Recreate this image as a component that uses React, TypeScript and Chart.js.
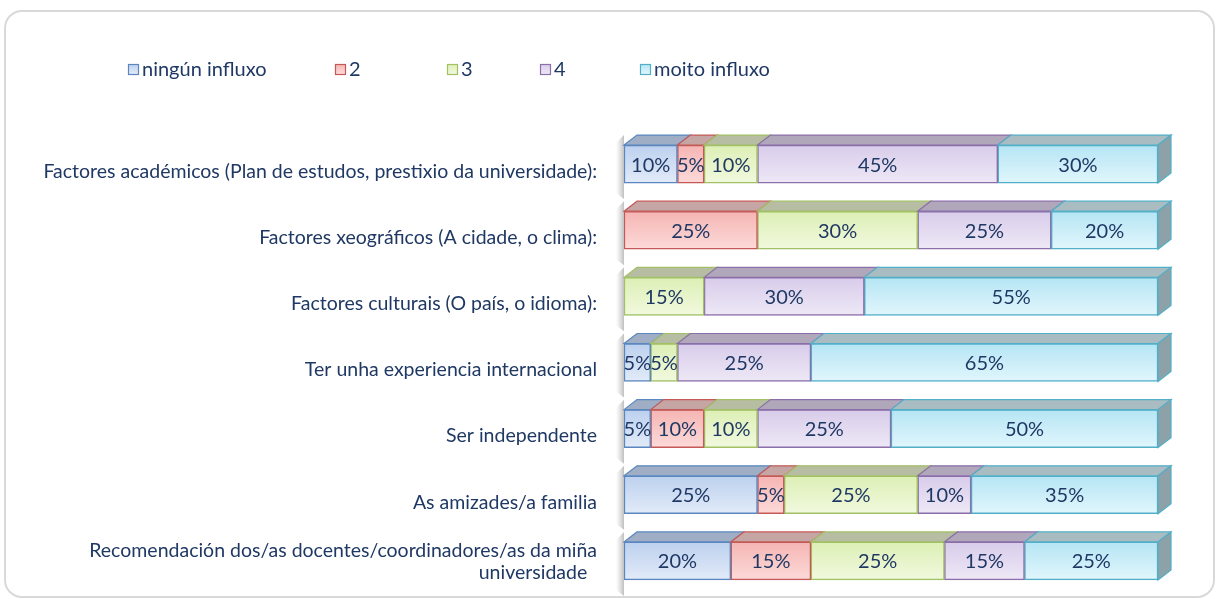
import React, { useEffect, useRef } from "react";
import { Chart, registerables } from "chart.js";
Chart.register(...registerables);

const categories: (string | string[])[] = [
  "Factores académicos (Plan de estudos, prestixio da universidade):",
  "Factores xeográficos (A cidade, o clima):",
  "Factores culturais (O país, o idioma):",
  "Ter unha experiencia internacional",
  "Ser independente",
  "As amizades/a familia",
  ["Recomendación dos/as docentes/coordinadores/as da miña", "universidade\u2002"],
];
const seriesNames = ["ningún influxo", "2", "3", "4", "moito influxo"];
const valsNingun = [10, 0, 0, 5, 5, 25, 20];
const vals2 = [5, 25, 0, 0, 10, 5, 15];
const vals3 = [10, 30, 15, 5, 10, 25, 25];
const vals4 = [45, 25, 30, 25, 25, 10, 15];
const valsMoito = [30, 20, 55, 65, 50, 35, 25];
const seriesValues = [valsNingun, vals2, vals3, vals4, valsMoito];

const palette = [
  { border: "#5B87C0", light: "#E2EBF8", dark: "#BCD0EE", top: "#9FAEC5" },
  { border: "#C45A57", light: "#FCDAD9", dark: "#F5B5B3", top: "#C6A5A5" },
  { border: "#A2C064", light: "#F1F9DE", dark: "#DDEFB5", top: "#B6BDA3" },
  { border: "#8A6FAA", light: "#EEE8F6", dark: "#D8CCEA", top: "#B1A7BA" },
  { border: "#52AFC8", light: "#E1F6FC", dark: "#B5E5F4", top: "#A9BCC1" },
];
const sideColor = "#8CA2A8";
const textColor = "#1F3864";
const FONT = "Lato, 'Open Sans', sans-serif";
const FS = 20;
const FS_CAT = 19.5;
const CAT_LH = 22;
const CAT_GAP = 27;
const DX = 13;
const DY = 10;
const legendX = [128, 335, 447, 540, 640];
const legendY = 69;

const threeD = {
  id: "threeD",
  beforeDatasetsDraw(chart: any) {
    const ctx = chart.ctx;
    const n = chart.data.labels.length;
    const meta0 = chart.getDatasetMeta(0);
    ctx.save();
    for (let i = 0; i < n; i++) {
      const el = meta0.data[i];
      const left = Math.min(el.base, el.x);
      const yt = el.y - el.height / 2 - DY;
      const yb = el.y + el.height / 2 + 16;
      const g = ctx.createLinearGradient(left - 8, 0, left, 0);
      g.addColorStop(0, "rgba(190,190,190,0)");
      g.addColorStop(1, "rgba(170,170,170,0.75)");
      ctx.fillStyle = g;
      ctx.beginPath();
      ctx.moveTo(left - 2, yt + 2);
      ctx.lineTo(left, yt);
      ctx.lineTo(left, yb);
      ctx.lineTo(left - 8, yb - 6);
      ctx.lineTo(left - 8, yt + 8);
      ctx.closePath();
      ctx.fill();
    }
    ctx.restore();
  },
  afterDatasetsDraw(chart: any) {
    const ctx = chart.ctx;
    const n = chart.data.labels.length;
    ctx.save();
    chart.data.datasets.forEach((ds: any, di: number) => {
      const meta = chart.getDatasetMeta(di);
      meta.data.forEach((el: any, i: number) => {
        const v = ds.data[i];
        if (!v) return;
        const x0 = Math.min(el.base, el.x);
        const x1 = Math.max(el.base, el.x);
        const yt = el.y - el.height / 2;
        ctx.beginPath();
        ctx.moveTo(x0, yt);
        ctx.lineTo(x0 + DX, yt - DY);
        ctx.lineTo(x1 + DX, yt - DY);
        ctx.lineTo(x1, yt);
        ctx.closePath();
        ctx.fillStyle = palette[di].top;
        ctx.fill();
        ctx.lineWidth = 1.2;
        ctx.strokeStyle = palette[di].border;
        ctx.stroke();
      });
    });
    for (let i = 0; i < n; i++) {
      let last = -1;
      chart.data.datasets.forEach((ds: any, di: number) => {
        if (ds.data[i]) last = di;
      });
      if (last < 0) continue;
      const el = chart.getDatasetMeta(last).data[i];
      const xr = Math.max(el.base, el.x);
      const yt = el.y - el.height / 2;
      const yb = el.y + el.height / 2;
      ctx.beginPath();
      ctx.moveTo(xr, yt);
      ctx.lineTo(xr + DX, yt - DY);
      ctx.lineTo(xr + DX, yb - DY);
      ctx.lineTo(xr, yb);
      ctx.closePath();
      ctx.fillStyle = sideColor;
      ctx.fill();
      ctx.lineWidth = 1.2;
      ctx.strokeStyle = palette[last].border;
      ctx.stroke();
    }
    ctx.font = FS + "px " + FONT;
    ctx.fillStyle = textColor;
    ctx.textAlign = "center";
    ctx.textBaseline = "middle";
    chart.data.datasets.forEach((ds: any, di: number) => {
      const meta = chart.getDatasetMeta(di);
      meta.data.forEach((el: any, i: number) => {
        const v = ds.data[i];
        if (!v) return;
        const p = el.getCenterPoint();
        ctx.fillText(v + "%", p.x, p.y + 1);
      });
    });
    // category labels (y axis)
    const ys = chart.scales.y;
    ctx.font = FS_CAT + "px " + FONT;
    ctx.textAlign = "right";
    chart.data.labels.forEach((lab: any, i: number) => {
      const lines = Array.isArray(lab) ? lab : [lab];
      const yc = ys.getPixelForTick(i) + (lines.length > 1 ? 1 : 7.5);
      const start = yc - ((lines.length - 1) * CAT_LH) / 2;
      lines.forEach((ln: string, k: number) => {
        ctx.fillText(ln, ys.right - CAT_GAP, start + k * CAT_LH);
      });
    });
    // legend
    ctx.font = FS + "px " + FONT;
    ctx.textAlign = "left";
    seriesNames.forEach((name, di) => {
      const x = legendX[di];
      const g = ctx.createLinearGradient(0, legendY - 5, 0, legendY + 5);
      g.addColorStop(0, palette[di].dark);
      g.addColorStop(1, palette[di].light);
      ctx.fillStyle = g;
      ctx.fillRect(x, legendY - 5, 10, 10);
      ctx.lineWidth = 1.2;
      ctx.strokeStyle = palette[di].border;
      ctx.strokeRect(x + 0.5, legendY - 4.5, 10, 10);
      ctx.fillStyle = textColor;
      ctx.fillText(name, x + 14, legendY + 1);
    });
    ctx.restore();
  },
};

export default function App() {
  const ref = useRef<HTMLCanvasElement | null>(null);
  useEffect(() => {
    document.body.style.margin = "0";
    const canvas = ref.current;
    if (!canvas) return;
    const chart = new Chart(canvas, {
      type: "bar",
      data: {
        labels: categories as any,
        datasets: seriesNames.map((name, di) => ({
          label: name,
          data: seriesValues[di],
          borderColor: palette[di].border,
          borderWidth: 1.5,
          borderSkipped: false,
          backgroundColor: (c: any) => {
            const ch = c.chart;
            const ys = ch.scales && ch.scales.y;
            if (!ys || c.type !== "data") return palette[di].light;
            const yc = ys.getPixelForValue(c.dataIndex);
            if (!Number.isFinite(yc)) return palette[di].light;
            const g = ch.ctx.createLinearGradient(0, yc - 19, 0, yc + 19);
            g.addColorStop(0, palette[di].dark);
            g.addColorStop(1, palette[di].light);
            return g;
          },
          barThickness: 38,
        })),
      },
      options: {
        indexAxis: "y",
        responsive: false,
        animation: false,
        layout: { padding: { top: 131, bottom: 5, right: 63, left: 0 } },
        plugins: { legend: { display: false }, tooltip: { enabled: false } },
        scales: {
          x: { stacked: true, min: 0, max: 100, display: false },
          y: {
            stacked: true,
            grid: { display: false },
            border: { display: false },
            ticks: { display: false, autoSkip: false },
            afterFit: (s: any) => {
              s.width = 624;
              s.paddingTop = 0;
              s.paddingBottom = 0;
            },
          },
        },
      },
      plugins: [threeD],
    });
    return () => chart.destroy();
  }, []);
  return (
    <div style={{ position: "relative", width: 1221, height: 599, background: "#fff" }}>
      <div
        style={{
          position: "absolute",
          left: 4,
          top: 10,
          width: 1211,
          height: 588,
          border: "2px solid #D9D9D9",
          borderRadius: 18,
          boxSizing: "border-box",
        }}
      />
      <canvas ref={ref} width={1221} height={599} style={{ position: "absolute", left: 0, top: 0 }} />
    </div>
  );
}
